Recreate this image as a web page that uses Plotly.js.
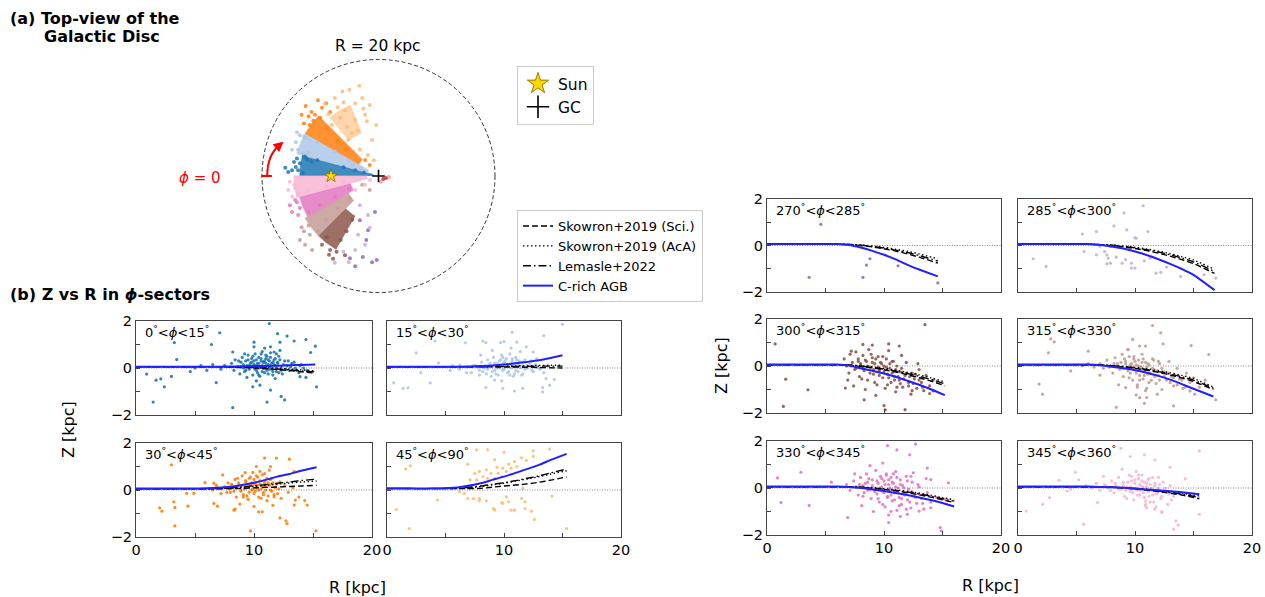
<!DOCTYPE html>
<html><head><meta charset="utf-8">
<script src="https://cdn.plot.ly/plotly-3.0.1.min.js"></script>
<style>html,body{margin:0;padding:0;background:#fff;} #chart{width:1265px;height:597px;}</style>
</head><body><div id="chart"></div>
<script>
// ---------------- DATA ----------------
const sectorLabels = ['0','15','30','45','270','285','300','315','330','345'];
const sectorLabelsHi = ['15','30','45','90','285','300','315','330','345','360'];
const sectorColors = ['#1f77b4','#aec7e8','#ff7f0e','#ffbb78','#9467bd','#c5b0d5','#8c564b','#c49c94','#e377c2','#f7b6d2'];
// dense cores seen in the top view (R range in kpc, phi range in deg, apparent density)
const coreR0   = [1, 2, 4, 8, null, null, 8, 6, 5, 2];
const coreR1   = [13.5, 14.5, 14.5, 13, null, null, 14.5, 14.5, 14, 14.5];
const corePhi0 = [0, 15, 30, 50, null, null, 300, 315, 330, 345];
const corePhi1 = [15, 30, 45, 68, null, null, 315, 330, 345, 360];
const coreAlpha = [0.85, 0.85, 0.85, 0.6, null, null, 0.85, 0.85, 0.85, 0.85];
const SUN_R = 8.15;
const DISC_R = 20;

// top-view scattered stars (X, Y in kpc; GC at origin, phi=0 towards -X)
const topX_000 = [-14.85,-14.2,-15.5,-13.5,-16.0,-14.0,-12.5,-13.0,-12.2,-11.5,-13.8,-6.0,-4.0,-2.5,-12.8,-10.5,-14.5];
const topY_000 = [1.0,1.55,0.7,2.2,1.4,3.0,3.2,0.5,2.8,2.5,1.0,1.5,1.0,0.6,3.4,2.7,2.4];
const topX_015 = [-14.2,-14.85,-13.5,-4.5,-12.8,-13.0,-13.8,-12.5,-11.8,-10.5,-7.5,-5.0,-3.0,-14.0,-12.0];
const topY_015 = [5.8,4.5,7.0,1.9,6.8,3.9,4.5,6.5,6.0,5.8,4.2,2.6,1.3,7.5,4.0];
const topX_030 = [-10.9,-9.7,-11.8,-8.3,-1.5,-2.3,-10.4,-12.0,-11.2,-12.5,-11.5,-10.0,-8.8,-7.0,-5.5,-13.2,-9.0,-12.8];
const topY_030 = [10.5,11.7,8.75,11.0,1.9,2.75,13.0,10.2,9.5,12.0,11.0,10.0,8.2,6.0,4.5,10.5,12.5,9.0];
const topX_045 = [-9.2,-7.5,-4.0,-2.8,-1.5,-0.4,-1.1,-1.8,-3.2,-5.2,-6.6,-0.8,-4.0,-2.3,-5.75,-8.0,-3.3,-6.2,-5.0,-7.0,-4.6,-3.6,-2.0,-6.0,-8.6,-2.6,-5.4];
const topY_045 = [12.4,13.4,12.5,13.4,12.2,8.75,6.2,3.6,4.5,6.2,10.0,2.7,9.6,10.5,11.3,8.75,15.5,14.5,14.8,11.8,7.4,7.8,9.4,12.6,10.6,11.6,8.4];
const topX_270 = [-3.2,-1.8,-1.1,-4.0,-0.6,-4.9,-2.1,-0.3,-2.7];
const topY_270 = [-7.6,-9.3,-14.8,-15.5,-6.2,-14.1,-11.0,-14.4,-13.9];
const topX_285 = [-3.2,-1.8,-3.5,-2.3,-1.5,-4.0,-7.5,-5.1,-6.0];
const topY_285 = [-5.0,-6.7,-10.1,-11.8,-8.9,-12.7,-14.9,-14.8,-13.0];
const topX_300 = [-8.3,-9.7,-5.75,-8.5,-7.2,-6.5,-5.5,-4.5,-8.9,-7.8];
const topY_300 = [-12.7,-11.8,-13.6,-13.5,-13.0,-11.0,-9.5,-7.5,-10.5,-14.2];
const topX_315 = [-13.5,-12.6,-11.8,-11.4,-1.5,-2.8,-12.0,-10.5,-9.0,-7.0,-5.0,-12.8,-13.2];
const topY_315 = [-11.0,-11.8,-10.1,-12.7,-2.4,-1.5,-8.5,-9.5,-7.5,-5.5,-3.8,-9.5,-8.8];
const topX_330 = [-15.2,-14.3,-13.8,-14.85,-13.5,-12.0,-10.0,-7.5,-5.0,-14.0];
const topY_330 = [-5.0,-4.1,-6.7,-6.2,-5.5,-6.2,-5.0,-3.5,-2.2,-4.5];
const topX_345 = [-15.2,-15.5,-14.3,-1.5,-2.3,-4.0,-14.5,-13.8,-12.0,-9.0,-6.0,-14.8];
const topY_345 = [-1.0,-2.4,-2.1,-0.7,-1.5,-2.4,-1.5,-3.0,-2.5,-1.8,-1.0,-3.5];
const topX_other = [1.3,1.8,0.8,0.4];
const topY_other = [-0.35,-0.17,-0.5,-1.0];

// Z vs R stars per sector
const R_000 = [11.3,7.1,6.4,3.25,3.45,12.0,12.8,13.4,14.4,12.2,15.2,14.8,10.0,10.0,8.2,11.4,11.7,0.9,1.7,2.1,2.4,3.0,1.45,8.2,11.1,12.3,12.6,15.3,9.9,10.5,11.4,6.8,14.4,13.9,
 8.1,8.3,8.4,8.6,8.8,8.9,9.0,9.1,9.2,9.3,9.4,9.5,9.6,9.7,9.8,9.9,10.0,10.0,10.1,10.2,10.3,10.4,10.4,10.5,10.6,10.7,10.7,10.8,10.9,11.0,11.0,11.1,11.2,11.3,11.3,11.4,11.5,11.6,11.7,11.8,11.9,12.0,12.1,12.3,12.4,12.6,12.8,13.0,13.2,13.5,13.8,14.0,9.4,10.2,11.8,10.9,9.2,12.2,7.5,7.2,6.5,6.0,5.5,5.0,4.6,
 10.0,10.2,10.4,10.5,10.6,10.8,10.9,11.0,11.1,11.2,11.3,11.4,11.5,11.6,11.7,11.8,11.9,12.0,12.2,12.3,10.1,9.8,9.6,9.5,9.3,9.1,8.9,8.7,10.3,10.7,11.0,11.2,10.6,12.5,12.7,12.9,13.1,13.4,13.6,13.9,14.2,14.5,9.9,10.4,11.6,11.9,12.1,10.8,11.4,10.2];
const Z_000 = [1.89,1.5,1.0,1.08,0.36,1.46,1.36,1.15,1.21,1.1,0.93,0.66,1.1,0.9,0.68,0.9,0.68,-0.26,-0.52,-0.46,-0.8,-0.36,-1.45,-1.69,-1.45,-1.21,-1.36,-0.8,-0.8,-0.73,-0.94,-0.62,-0.4,-0.37,
 0.2,-0.1,0.35,0.05,-0.25,0.25,0.45,0.0,-0.15,0.3,0.1,0.55,-0.05,0.2,0.4,-0.3,0.1,0.3,0.6,-0.1,0.2,0.45,0.0,-0.35,0.3,0.1,0.7,0.25,-0.2,0.4,0.05,0.5,0.15,-0.05,0.3,0.65,0.2,-0.3,0.35,0.1,-0.15,0.25,0.5,0.05,-0.25,0.3,0.1,-0.1,0.2,0.0,-0.2,0.15,-0.4,-0.55,-0.45,0.85,0.6,0.75,0.1,-0.05,0.15,-0.1,0.1,0.0,-0.15,
 0.15,0.35,0.2,0.05,0.4,0.0,0.3,0.2,-0.1,0.35,0.1,0.45,-0.05,0.25,0.15,0.4,0.0,0.2,0.35,-0.1,-0.05,0.25,0.1,0.35,-0.1,0.15,0.05,0.3,-0.2,-0.15,0.55,-0.25,0.6,0.15,-0.05,0.3,0.05,0.25,-0.1,0.1,0.0,-0.1,0.5,-0.3,-0.15,0.6,-0.2,0.25,0.05,0.1];
const R_015 = [15.0,10.7,13.4,8.2,8.45,9.7,10.0,11.1,6.7,4.1,2.5,11.9,12.5,12.8,4.4,2.9,0.57,1.37,1.8,3.7,8.45,9.9,10.9,11.6,13.3,13.3,13.9,14.3,13.6,9.2,7.9,6.8,5.4,6.2,
 7.6,7.9,8.1,8.3,8.5,8.6,8.8,9.0,9.1,9.2,9.4,9.5,9.6,9.7,9.8,9.9,10.0,10.1,10.2,10.3,10.4,10.5,10.6,10.7,10.8,10.9,11.0,11.1,11.2,11.3,11.4,11.5,11.6,11.8,12.0,12.2,12.4,12.7,13.0,13.4,6.8,6.2,5.6,7.2,9.0,10.6,9.8,8.0,
 9.0,9.2,9.4,9.6,9.8,10.0,10.2,10.4,10.6,10.8,11.0,11.2,11.4,11.6,11.8,12.0,8.8,8.6,8.4,8.2,10.1,10.5,9.7,9.3,11.1,10.9,12.3,12.5,12.8,13.1,7.8,7.4,8.9,9.9,10.3,10.7,11.5,9.5,10.0,11.3];
const Z_015 = [1.86,1.52,1.38,1.15,1.08,1.08,1.12,1.1,1.07,1.15,0.64,0.9,0.68,0.4,0.22,-0.2,-0.63,-0.87,-0.84,-0.63,-0.83,-0.87,-0.98,-0.87,-1.02,-0.83,-0.73,-0.49,-0.45,-0.52,-0.3,-0.2,-0.1,0.12,
 0.1,-0.1,0.25,0.0,-0.25,0.35,0.1,-0.15,0.45,0.2,0.0,-0.3,0.3,0.1,0.55,-0.1,0.25,0.05,0.4,-0.2,0.15,0.6,0.0,0.3,-0.35,0.2,0.45,0.05,-0.15,0.3,0.7,0.1,-0.25,0.35,0.0,0.2,-0.1,0.15,0.0,-0.2,0.05,-0.05,0.1,-0.2,0.75,0.85,-0.55,0.55,
 0.05,-0.1,0.2,0.0,0.15,-0.05,0.1,-0.15,0.2,0.05,-0.1,0.15,0.0,0.25,-0.05,0.1,0.2,-0.05,0.1,-0.15,0.3,-0.3,0.35,-0.25,0.35,-0.25,0.3,-0.15,0.05,-0.05,0.05,0.1,-0.35,0.45,0.05,0.4,-0.3,0.1,0.2,0.1];
const R_030 = [3.0,10.9,11.9,13.0,10.2,11.4,10.5,9.25,7.35,13.4,5.85,6.6,4.9,4.3,2.0,2.2,3.2,3.3,3.3,4.4,6.6,6.9,8.4,8.3,9.7,10.4,10.7,12.2,12.7,12.8,13.4,13.5,14.5,15.25,11.7,
 7.5,7.8,8.0,8.2,8.4,8.5,8.7,8.9,9.0,9.1,9.3,9.4,9.5,9.6,9.7,9.8,9.9,10.0,10.1,10.2,10.3,10.4,10.5,10.6,10.7,10.8,10.9,11.0,11.1,11.2,11.3,11.4,11.5,11.7,11.9,12.1,12.3,12.6,12.9,13.3,6.8,6.5,6.9,7.2,13.8,14.3,8.8,10.0,11.6,
 8.5,8.7,8.9,9.0,9.2,9.3,9.5,9.6,9.8,9.9,10.0,10.1,10.3,10.4,10.5,10.7,10.8,10.9,11.0,11.1,11.3,11.5,11.6,11.8,12.0,8.3,8.1,7.9,7.7,9.4,10.2,10.6,11.2,9.7,10.9,12.2,8.6,9.1,10.0,11.4];
const Z_030 = [1.07,1.36,1.36,1.31,1.0,1.0,0.79,0.74,0.64,0.79,0.31,0.29,-0.14,-0.14,-0.76,-0.9,-0.5,-0.74,-1.53,-0.69,-0.57,-0.69,-0.81,-0.86,-1.74,-0.93,-0.93,-1.19,-1.31,-1.43,-0.64,-0.43,-0.64,-1.74,-0.29,
 0.15,0.3,-0.1,0.1,0.45,-0.3,0.2,0.0,0.6,-0.2,0.35,0.1,-0.4,0.5,0.2,0.0,0.75,-0.15,0.3,0.1,0.55,-0.3,0.25,0.05,0.65,-0.1,0.4,0.15,-0.45,0.3,0.85,0.0,0.5,-0.2,0.25,0.05,-0.35,0.2,-0.1,0.1,0.2,0.0,0.1,-0.15,-0.3,-0.45,-0.6,-0.7,-0.65,
 0.1,0.3,-0.05,0.2,0.05,0.4,0.15,-0.1,0.3,0.05,0.45,-0.05,0.2,0.0,0.4,0.15,-0.2,0.3,0.0,0.5,0.2,-0.05,0.3,0.1,-0.15,-0.05,0.25,0.05,-0.1,-0.25,0.6,-0.35,-0.25,0.55,0.7,0.35,0.5,-0.3,0.25,0.45];
const R_045 = [7.65,8.6,10.0,11.5,12.5,13.9,12.5,11.9,1.6,2.0,6.9,9.2,10.9,10.4,9.4,9.9,8.5,7.9,7.5,8.9,9.5,10.2,10.6,11.1,7.1,7.65,8.2,8.6,9.2,9.8,7.1,6.6,6.9,7.4,7.9,7.9,8.5,9.1,9.2,9.8,9.9,10.2,10.4,10.6,10.9,11.5,11.8,11.8,12.35,12.6,11.6,4.3,0.8,1.9,15.35,14.1,6.2];
const Z_045 = [1.71,1.71,1.6,1.37,1.67,1.74,1.43,1.26,0.89,1.03,1.1,1.29,1.21,1.1,0.97,0.93,0.86,0.79,0.71,0.71,0.71,0.79,0.93,1.0,0.43,0.43,0.57,0.5,0.5,0.57,0.07,-0.14,-0.36,-0.36,-0.46,-0.36,-0.46,-0.79,-0.86,-0.54,-0.57,-0.29,-0.5,-0.86,-0.86,-0.36,-0.5,-0.79,-0.9,-1.26,0.07,-0.43,-0.83,-1.64,-1.64,-0.26,-0.07];
const R_270 = [4.6,3.6,8.2,8.5,8.8,11.2,14.6];
const Z_270 = [0.91,-1.37,-1.37,-0.84,-0.57,-0.87,-1.61];
const R_285 = [10.7,9.06,8.2,9.3,11.1,6.7,5.5,10.0,10.1,5.65,6.7,7.4,7.6,7.7,7.6,7.9,8.4,8.9,9.2,9.7,9.7,10.0,10.8,11.3,11.8,12.2,12.7,13.9,15.9,16.9,1.3,2.4,7.0,7.9];
const Z_285 = [1.71,1.4,0.84,0.67,0.6,0.6,0.49,0.34,0.31,-0.26,-0.4,-0.26,-0.4,-0.54,-0.79,-0.76,-0.5,-0.76,-0.61,-0.76,-0.97,-0.97,-0.66,-0.54,-1.19,-1.16,-0.93,-1.33,-1.26,-1.4,-0.57,-0.9,-0.04,-0.04];
const R_300 = [0.7,1.6,3.5,1.4,13.5,9.0,10.4,11.3,8.2,7.2,6.7,8.3,10.0,10.1,11.8,13.9,14.2,
 6.6,6.8,7.0,7.1,7.3,7.5,7.6,7.8,7.9,8.0,8.2,8.3,8.5,8.6,8.7,8.8,9.0,9.1,9.2,9.4,9.5,9.6,9.7,9.9,10.0,10.1,10.2,10.3,10.5,10.6,10.7,10.9,11.0,11.1,11.3,11.4,11.6,11.8,11.9,12.1,12.3,12.4,12.6,12.8,13.0,13.2,13.4,13.6,13.9,14.2,8.4,7.4,9.3,10.4,6.9,11.5,12.9,
 8.0,8.2,8.4,8.6,8.8,9.0,9.1,9.3,9.5,9.6,9.8,10.0,10.2,10.4,10.5,10.7,10.9,11.0,11.2,11.4,11.5,11.7,11.9,12.1,12.2,12.5,12.7,13.0,13.3,7.6,7.8,7.2,8.1,9.2,9.9,10.8,10.3,11.1,12.4,8.9];
const Z_300 = [0.94,-0.56,-1.01,-1.72,1.76,0.89,0.94,0.85,0.92,0.63,-0.94,-1.44,-1.69,-1.87,-1.86,-1.17,-1.06,
 0.3,0.0,-0.3,0.5,0.15,-0.15,0.6,0.3,-0.45,0.05,0.45,-0.2,0.2,-0.6,0.7,-0.05,0.35,-0.35,0.1,-0.8,0.4,-0.2,0.15,-0.5,0.0,-0.95,0.3,-0.35,-0.1,-0.7,0.2,-0.45,-1.1,0.0,-0.6,-0.25,-0.9,-0.4,0.15,-0.7,-1.2,-0.3,-0.55,-0.95,-0.15,-0.7,-1.05,-0.4,-0.85,-0.6,-1.0,-0.85,-1.25,0.65,-0.6,0.45,0.1,
 0.1,-0.1,0.25,0.0,-0.3,0.15,-0.15,0.3,-0.05,-0.4,0.1,-0.25,-0.05,-0.5,0.1,-0.3,-0.6,-0.15,-0.45,-0.75,-0.1,-0.55,-0.3,-0.85,-0.45,-0.75,-0.35,-0.6,-0.9,-0.1,0.2,0.0,-0.55,-0.7,0.4,0.2,-0.8,-0.9,-1.05,0.5];
const R_315 = [11.5,12.2,2.8,3.1,2.6,6.0,9.8,10.4,9.4,12.4,14.8,16.3,1.8,2.1,4.5,7.0,8.4,9.2,10.1,10.8,11.0,13.3,14.7,15.1,16.9,
 7.0,7.3,7.6,7.9,8.1,8.3,8.5,8.7,8.9,9.0,9.2,9.3,9.5,9.6,9.7,9.8,9.9,10.0,10.1,10.2,10.3,10.4,10.5,10.6,10.7,10.8,10.9,11.0,11.1,11.2,11.4,11.5,11.6,11.8,12.0,12.1,12.3,12.5,12.7,12.9,13.1,13.3,13.6,13.8,14.1,14.4,14.7,15.0,15.5,16.0,6.5,6.0,5.5,9.4,10.9,8.6,11.9,10.4,
 8.5,8.8,9.0,9.2,9.4,9.6,9.8,10.0,10.1,10.3,10.5,10.6,10.8,11.0,11.1,11.3,11.5,11.7,11.9,12.1,12.3,12.5,12.8,13.0,13.3,13.6,14.0,14.3,9.1,9.9,10.7,8.2,7.8,10.4,11.2,9.5,12.0,10.2,11.6,10.9];
const Z_315 = [1.72,1.41,1.15,1.03,0.56,0.63,1.13,0.85,0.7,0.94,0.87,0.49,-0.77,-1.2,-0.21,-0.39,-1.76,-0.92,-1.23,-1.59,-1.34,-1.7,-1.06,-1.2,-1.44,
 0.1,-0.1,0.25,0.0,-0.3,0.35,0.1,-0.15,0.5,-0.45,0.2,-0.05,0.4,-0.3,0.1,-0.6,0.3,-0.15,0.05,-0.8,0.25,-0.4,-0.05,0.5,-0.55,-0.2,0.15,-0.95,-0.35,0.05,-0.6,0.3,-0.15,-0.75,-0.4,0.1,-1.0,-0.25,-0.6,0.2,-0.45,-0.85,-0.1,-0.55,-0.95,-0.3,-0.7,-0.5,-0.9,-0.6,-0.05,0.1,0.0,0.7,0.85,-0.8,-1.2,-1.35,
 0.0,0.15,-0.1,0.1,-0.2,0.05,-0.05,0.2,-0.3,0.0,-0.15,0.15,-0.4,-0.05,0.1,-0.3,-0.1,-0.45,-0.2,-0.6,-0.1,-0.45,-0.3,-0.7,-0.5,-0.8,-0.6,-0.9,0.3,0.4,0.3,0.1,-0.05,-0.6,-0.7,-0.5,0.2,-0.9,0.25,-1.05];
const R_330 = [0.9,1.2,2.9,3.6,5.5,6.9,10.3,11.1,12.7,12.2,8.8,9.9,13.7,14.0,15.5,14.8,14.9,10.4,11.4,12.0,13.0,14.0,15.2,
 6.8,7.1,7.4,7.6,7.8,8.0,8.2,8.3,8.5,8.6,8.8,8.9,9.0,9.2,9.3,9.4,9.5,9.6,9.7,9.8,9.9,10.0,10.1,10.2,10.3,10.4,10.5,10.6,10.7,10.8,10.9,11.0,11.1,11.2,11.3,11.4,11.5,11.6,11.7,11.9,12.0,12.1,12.3,12.4,12.6,12.8,13.0,13.2,13.4,13.7,14.0,14.5,9.1,10.4,8.1,12.5,13.6,7.5,
 9.0,9.2,9.4,9.6,9.8,10.0,10.1,10.3,10.4,10.5,10.6,10.7,10.9,11.0,11.1,11.2,11.4,11.5,11.7,11.8,12.0,12.2,12.4,12.7,13.0,8.4,8.6,8.7,8.2,7.9,9.5,10.2,10.8,11.3,11.9,9.9,10.6,12.3,13.3,12.9];
const Z_330 = [0.43,-0.62,0.67,-0.74,0.25,-1.26,1.8,1.62,1.87,1.41,0.95,1.06,0.85,0.36,0.22,-1.68,-1.82,-1.47,-1.21,-1.12,-0.98,-0.84,-0.48,
 0.15,-0.1,0.3,0.05,-0.3,0.45,0.1,-0.2,0.6,0.25,-0.05,-0.45,0.35,0.0,0.75,-0.25,0.2,-0.6,0.5,0.05,-0.15,0.3,-0.8,0.6,-0.35,0.15,-0.05,0.45,-0.55,0.2,-0.2,0.7,-0.95,0.0,-0.4,0.35,-0.7,0.1,-0.25,0.5,-0.5,-0.05,-0.85,0.25,-0.35,-0.65,0.05,-0.45,-0.9,-0.2,-0.6,-0.4,-1.0,-1.15,-0.75,0.65,0.4,0.6,
 0.1,-0.15,0.3,0.0,0.4,-0.2,0.15,-0.4,0.35,0.0,-0.3,0.25,-0.5,0.05,0.45,-0.2,0.15,-0.45,0.0,-0.3,0.3,-0.6,-0.15,-0.4,-0.25,0.2,-0.1,0.4,-0.35,0.15,-0.45,0.55,0.6,-0.75,-0.9,-0.7,-1.0,0.5,-0.65,0.15];
const R_345 = [0.7,2.1,2.7,3.5,4.2,4.9,5.6,6.8,8.8,9.6,10.8,11.7,13.0,14.3,15.5,15.5,13.5,13.7,13.3,12.3,11.7,10.9,
 5.8,6.3,6.7,7.0,7.4,7.7,8.0,8.2,8.4,8.6,8.8,9.0,9.1,9.3,9.5,9.6,9.7,9.8,9.9,10.0,10.1,10.2,10.3,10.4,10.5,10.6,10.7,10.8,10.9,11.0,11.1,11.2,11.3,11.4,11.5,11.6,11.7,11.8,12.0,12.2,12.4,12.6,12.8,13.0,13.3,8.9,11.0,12.3,7.3,5.2,4.5,
 9.0,9.2,9.4,9.6,9.8,10.0,10.1,10.2,10.4,10.5,10.6,10.7,10.8,11.0,11.1,11.2,11.4,11.5,11.7,11.9,12.1,12.3,12.6,12.9,8.6,8.3,7.9,7.5,10.3,11.3,9.7,10.9,12.0,13.1,11.8,9.3];
const Z_345 = [-0.98,-0.7,-0.41,0.33,-0.13,0.67,-1.54,-0.62,1.69,1.34,1.41,1.2,0.88,0.39,1.58,-1.12,-1.4,-1.58,-1.75,-1.05,-0.9,-0.77,
 0.1,0.0,0.2,-0.1,0.15,0.0,0.3,-0.2,0.1,0.45,-0.05,0.25,-0.35,0.05,0.55,-0.15,0.3,0.0,-0.5,0.2,0.7,-0.1,0.4,-0.3,0.1,0.55,-0.2,0.25,-0.55,0.05,0.35,-0.35,0.15,-0.1,0.45,-0.6,0.2,-0.25,0.0,-0.45,0.25,-0.15,-0.7,0.1,-0.35,0.8,-0.85,-1.0,0.5,0.35,-0.05,
 0.1,-0.1,0.25,0.05,-0.2,0.35,0.0,-0.3,0.15,-0.1,0.3,0.05,-0.4,0.2,-0.15,0.4,0.0,-0.3,0.1,-0.2,0.15,-0.35,0.0,-0.25,-0.05,0.2,-0.1,0.1,0.55,-0.6,0.5,-0.7,0.45,-0.5,-0.8,-0.45];

// warp models per sector (R grid and Z values in kpc)
const mR_000 = [0,2,4,6,8,9,10,11,12,13,14,15.2];
const blue_000 = [0.05,0.05,0.05,0.05,0.06,0.07,0.08,0.09,0.10,0.12,0.13,0.15];
const sci_000  = [0.05,0.05,0.05,0.05,0.04,0.02,0.0,-0.03,-0.07,-0.11,-0.16,-0.22];
const aca_000  = [0.05,0.05,0.05,0.05,0.05,0.04,0.03,0.01,-0.01,-0.04,-0.08,-0.12];
const lem_000  = [0.05,0.05,0.05,0.05,0.04,0.03,0.02,-0.01,-0.04,-0.08,-0.12,-0.17];
const mR_015 = [0,2,4,6,8,9,10,11,12,13,14,15.0];
const blue_015 = [0.05,0.05,0.05,0.05,0.08,0.11,0.15,0.2,0.26,0.33,0.43,0.54];
const sci_015  = [0.05,0.05,0.05,0.05,0.05,0.05,0.04,0.04,0.03,0.02,0.01,0.0];
const aca_015  = [0.05,0.05,0.05,0.05,0.06,0.07,0.08,0.09,0.1,0.11,0.115,0.12];
const lem_015  = [0.05,0.05,0.05,0.05,0.05,0.06,0.06,0.07,0.07,0.08,0.08,0.08];
const mR_030 = [0,2,4,6,8,9,10,11,12,13,14,15.3];
const blue_030 = [0.06,0.06,0.06,0.07,0.14,0.21,0.31,0.43,0.57,0.68,0.82,0.97];
const sci_030  = [0.05,0.05,0.05,0.05,0.06,0.07,0.09,0.11,0.13,0.15,0.17,0.2];
const aca_030  = [0.05,0.05,0.05,0.05,0.08,0.11,0.15,0.2,0.25,0.3,0.34,0.38];
const lem_030  = [0.05,0.05,0.05,0.05,0.09,0.13,0.18,0.23,0.29,0.34,0.4,0.46];
const mR_045 = [0,2,4,6,8,9,10,11,12,13,14,15.35];
const blue_045 = [0.07,0.07,0.07,0.11,0.29,0.43,0.57,0.73,0.9,1.07,1.28,1.54];
const sci_045  = [0.06,0.06,0.06,0.06,0.07,0.12,0.17,0.21,0.26,0.33,0.42,0.56];
const aca_045  = [0.06,0.06,0.06,0.06,0.14,0.22,0.29,0.38,0.47,0.57,0.68,0.82];
const lem_045  = [0.06,0.06,0.06,0.07,0.17,0.24,0.31,0.4,0.5,0.6,0.73,0.89];
const mR_270 = [0,2,4,6,7,8,9,10,11,12,13,14.6];
const blue_270 = [0.06,0.06,0.06,0.06,0.02,-0.09,-0.23,-0.4,-0.6,-0.83,-1.03,-1.33];
const sci_270  = [0.05,0.05,0.05,0.05,0.04,0.0,-0.06,-0.14,-0.24,-0.36,-0.5,-0.76];
const aca_270  = [0.05,0.05,0.05,0.05,0.05,0.02,-0.02,-0.08,-0.16,-0.25,-0.36,-0.58];
const lem_270  = [0.05,0.05,0.05,0.05,0.04,0.01,-0.04,-0.11,-0.2,-0.3,-0.43,-0.67];
const mR_285 = [0,2,4,6,8,9,10,11,12,13,14,15,16.8];
const blue_285 = [0.06,0.06,0.06,0.06,-0.04,-0.13,-0.26,-0.41,-0.59,-0.79,-1.01,-1.26,-1.92];
const sci_285  = [0.05,0.05,0.05,0.05,0.0,-0.06,-0.13,-0.22,-0.33,-0.46,-0.61,-0.78,-1.2];
const aca_285  = [0.05,0.05,0.05,0.05,0.02,-0.02,-0.08,-0.15,-0.24,-0.35,-0.48,-0.62,-1.03];
const lem_285  = [0.05,0.05,0.05,0.05,0.01,-0.04,-0.1,-0.18,-0.28,-0.4,-0.54,-0.7,-1.12];
const mR_300 = [0,2,4,6,7,8,9,10,11,12,13,14,15.2];
const blue_300 = [0.06,0.06,0.06,0.06,0.02,-0.1,-0.2,-0.32,-0.46,-0.63,-0.8,-0.99,-1.24];
const sci_300  = [0.05,0.05,0.05,0.05,0.03,-0.02,-0.08,-0.16,-0.26,-0.37,-0.5,-0.64,-0.84];
const aca_300  = [0.05,0.05,0.05,0.05,0.04,0.01,-0.04,-0.1,-0.18,-0.27,-0.38,-0.5,-0.68];
const lem_300  = [0.05,0.05,0.05,0.05,0.04,0.0,-0.06,-0.13,-0.22,-0.32,-0.44,-0.57,-0.76];
const mR_315 = [0,2,4,6,7,8,9,10,11,12,13,14,15,16.7];
const blue_315 = [0.06,0.06,0.06,0.06,0.03,-0.03,-0.1,-0.18,-0.29,-0.42,-0.58,-0.77,-0.97,-1.3];
const sci_315  = [0.05,0.05,0.05,0.05,0.04,0.01,-0.04,-0.1,-0.18,-0.27,-0.38,-0.51,-0.66,-1.0];
const aca_315  = [0.05,0.05,0.05,0.05,0.05,0.02,-0.01,-0.06,-0.12,-0.2,-0.29,-0.4,-0.53,-0.9];
const lem_315  = [0.05,0.05,0.05,0.05,0.04,0.01,-0.03,-0.08,-0.15,-0.24,-0.34,-0.46,-0.6,-0.95];
const mR_330 = [0,2,4,6,7,8,9,10,11,12,13,14,15,16];
const blue_330 = [0.06,0.06,0.06,0.06,0.04,0.0,-0.06,-0.13,-0.21,-0.3,-0.4,-0.51,-0.64,-0.79];
const sci_330  = [0.05,0.05,0.05,0.05,0.05,0.03,-0.01,-0.06,-0.12,-0.2,-0.29,-0.39,-0.5,-0.62];
const aca_330  = [0.05,0.05,0.05,0.05,0.05,0.04,0.01,-0.03,-0.08,-0.14,-0.22,-0.31,-0.41,-0.5];
const lem_330  = [0.05,0.05,0.05,0.05,0.05,0.03,0.0,-0.05,-0.1,-0.17,-0.25,-0.35,-0.45,-0.56];
const mR_345 = [0,2,4,6,8,10,12,14,15.5];
const blue_345 = [0.06,0.06,0.06,0.06,0.03,-0.02,-0.1,-0.18,-0.27];
const sci_345  = [0.05,0.05,0.05,0.05,0.03,-0.04,-0.15,-0.3,-0.46];
const aca_345  = [0.05,0.05,0.05,0.05,0.04,-0.01,-0.1,-0.22,-0.34];
const lem_345  = [0.05,0.05,0.05,0.05,0.03,-0.03,-0.13,-0.26,-0.4];

const modelNames = ['Skowron+2019 (Sci.)','Skowron+2019 (AcA)','Lemasle+2022','C-rich AGB'];
const xTickVals = [0,5,10,15,20], xTickText = ['0','','10','','20'];
const yTickVals = [-2,-1,0,1,2], yTickText = ['\u22122','','0','','2'];

// ---------------- BUILD ----------------
const W = 1265, H = 597;
const FONT = 'DejaVu Sans, Liberation Sans, sans-serif';
const zrR = [R_000,R_015,R_030,R_045,R_270,R_285,R_300,R_315,R_330,R_345];
const zrZ = [Z_000,Z_015,Z_030,Z_045,Z_270,Z_285,Z_300,Z_315,Z_330,Z_345];
const mR = [mR_000,mR_015,mR_030,mR_045,mR_270,mR_285,mR_300,mR_315,mR_330,mR_345];
const mBlue = [blue_000,blue_015,blue_030,blue_045,blue_270,blue_285,blue_300,blue_315,blue_330,blue_345];
const mSci = [sci_000,sci_015,sci_030,sci_045,sci_270,sci_285,sci_300,sci_315,sci_330,sci_345];
const mAca = [aca_000,aca_015,aca_030,aca_045,aca_270,aca_285,aca_300,aca_315,aca_330,aca_345];
const mLem = [lem_000,lem_015,lem_030,lem_045,lem_270,lem_285,lem_300,lem_315,lem_330,lem_345];
const topX = [topX_000,topX_015,topX_030,topX_045,topX_270,topX_285,topX_300,topX_315,topX_330,topX_345];
const topY = [topY_000,topY_015,topY_030,topY_045,topY_270,topY_285,topY_300,topY_315,topY_330,topY_345];

const boxes = [[136,372,321,415],[387,621,321,415],[136,372,443,537],[387,621,443,537],
  [767,1001,199,292],[1018,1252,199,292],[767,1001,319,413],[1018,1252,319,413],[767,1001,441,535],[1018,1252,441,535]];
const showXLabels = [false,false,true,true,false,false,false,false,true,true];
const showYLabels = [true,false,true,false,true,false,true,false,true,false];

const traces = [];
const layout = {
  width: W, height: H, margin: {l:0,r:0,t:0,b:0},
  paper_bgcolor: '#fff', plot_bgcolor: '#fff',
  font: {family: FONT, color: '#000'},
  showlegend: true,
  shapes: [], annotations: []
};

function hexA(hex, a){const n=parseInt(hex.slice(1),16);return `rgba(${n>>16&255},${n>>8&255},${n&255},${a})`;}
function paper(px,py){return {x:px/W, y:1-py/H, xref:'paper', yref:'paper'};}

const tvL=256, tvR=501, tvT=54, tvB=298, tvCx=378.5, tvCy=176, pxPerKpc=5.825;
layout.xaxis = {domain:[tvL/W, tvR/W], range:[(tvL-tvCx)/pxPerKpc,(tvR-tvCx)/pxPerKpc], visible:false, fixedrange:true};
layout.yaxis = {domain:[1-tvB/H, 1-tvT/H], range:[(tvCy-tvB)/pxPerKpc,(tvCy-tvT)/pxPerKpc], visible:false, fixedrange:true};

layout.shapes.push({type:'circle', xref:'x', yref:'y', x0:-DISC_R, x1:DISC_R, y0:-DISC_R, y1:DISC_R,
  line:{color:'#333', width:1, dash:'4px,2.5px'}});

for (let i=0;i<10;i++){
  if (coreR0[i]===null) continue;
  const xs=[], ys=[];
  for (let p=corePhi0[i]; p<=corePhi1[i]; p+=1){const a=p*Math.PI/180; xs.push(-coreR1[i]*Math.cos(a)); ys.push(coreR1[i]*Math.sin(a));}
  for (let p=corePhi1[i]; p>=corePhi0[i]; p-=1){const a=p*Math.PI/180; xs.push(-coreR0[i]*Math.cos(a)); ys.push(coreR0[i]*Math.sin(a));}
  traces.push({type:'scatter', mode:'lines', x:xs, y:ys, fill:'toself', fillcolor:hexA(sectorColors[i],coreAlpha[i]),
    line:{width:1.5, color:hexA(sectorColors[i],0.5)}, xaxis:'x', yaxis:'y', showlegend:false, hoverinfo:'skip'});
}
for (let i=0;i<10;i++){
  traces.push({type:'scatter', mode:'markers', x:topX[i], y:topY[i], xaxis:'x', yaxis:'y', showlegend:false,
    marker:{size:4, color:sectorColors[i], opacity:0.85}});
}
traces.push({type:'scatter', mode:'markers', x:topX_other, y:topY_other, xaxis:'x', yaxis:'y', showlegend:false,
  marker:{size:4, color:['#d62728','#ff9896','#d62728','#ff9896'], opacity:0.85}});
traces.push({type:'scatter', mode:'markers', x:[-SUN_R], y:[0], xaxis:'x', yaxis:'y', showlegend:false,
  marker:{symbol:'star', size:10, color:'#FFD700', line:{color:'#7a6000', width:0.7}}});
traces.push({type:'scatter', mode:'markers', x:[0], y:[0], xaxis:'x', yaxis:'y', showlegend:false,
  marker:{symbol:'cross-thin', size:9, color:'#000', line:{color:'#000', width:1.6}}});
traces.push({type:'scatter', mode:'markers', x:[null], y:[null], xaxis:'x', yaxis:'y', name:'Sun', legend:'legend2',
  marker:{symbol:'star', size:17, color:'#FFD700', line:{color:'#7a6000', width:0.8}}});
traces.push({type:'scatter', mode:'markers', x:[null], y:[null], xaxis:'x', yaxis:'y', name:'GC', legend:'legend2',
  marker:{symbol:'cross-thin', size:17, color:'#000', line:{color:'#000', width:1.6}}});

layout.shapes.push({type:'line', xref:'x', yref:'y', x0:-20.1, x1:-18.3, y0:0, y1:0, line:{color:'red', width:2}});
layout.shapes.push({type:'path', xref:'x', yref:'y', path:'M -19.1 0 Q -19.1 3.6 -17.0 5.3', line:{color:'red', width:2}});
layout.annotations.push({xref:'x', yref:'y', axref:'x', ayref:'y', x:-16.3, y:5.9, ax:-17.3, ay:5.05, text:'',
  showarrow:true, arrowhead:2, arrowsize:1, arrowwidth:2, arrowcolor:'red', standoff:0});

const dashes = ['6px,3px','1.5px,2.5px','8px,3px,1.5px,3px'];
for (let i=0;i<10;i++){
  const n=i+2, xa='x'+n, ya='y'+n;
  const [l,r,t,b]=boxes[i];
  layout['xaxis'+n] = {domain:[l/W,r/W], range:[0,20], anchor:ya, showgrid:false, zeroline:false,
    showline:true, mirror:true, linecolor:'#444', linewidth:1, ticks:'inside', ticklen:4, tickcolor:'#444',
    tickvals:xTickVals, ticktext:xTickText, showticklabels:showXLabels[i], tickfont:{size:14.5, family:FONT}, fixedrange:true};
  layout['yaxis'+n] = {domain:[1-b/H,1-t/H], range:[-2,2], anchor:xa, showgrid:false, zeroline:false,
    showline:true, mirror:true, linecolor:'#444', linewidth:1, ticks:'inside', ticklen:4, tickcolor:'#444',
    tickvals:yTickVals, ticktext:yTickText, showticklabels:showYLabels[i], tickfont:{size:14.5, family:FONT}, fixedrange:true};
  layout.shapes.push({type:'line', xref:xa+' domain', yref:ya, x0:0, x1:1, y0:0, y1:0, line:{color:'#555', width:0.7, dash:'1px,1.5px'}});
  traces.push({type:'scatter', mode:'markers', x:zrR[i], y:zrZ[i], xaxis:xa, yaxis:ya, showlegend:false,
    marker:{size:3.2, color:sectorColors[i], opacity:0.9}});
  const lines = [mSci[i], mAca[i], mLem[i]];
  lines.forEach((z,k)=>{
    traces.push({type:'scatter', mode:'lines', x:mR[i], y:z, xaxis:xa, yaxis:ya, name:modelNames[k],
      legend:'legend', showlegend:i===0, line:{color:'#000', width:1.4, dash:dashes[k], shape:'spline', smoothing:0.6}});
  });
  traces.push({type:'scatter', mode:'lines', x:mR[i], y:mBlue[i], xaxis:xa, yaxis:ya, name:modelNames[3],
    legend:'legend', showlegend:i===0, line:{color:'#1f1fff', width:2, shape:'spline', smoothing:0.6}});
  layout.annotations.push({xref:xa+' domain', yref:ya+' domain', x:0.03, y:0.88, xanchor:'left', yanchor:'middle',
    showarrow:false, text:`${sectorLabels[i]}<sup>°</sup>&lt;<i>ϕ</i>&lt;${sectorLabelsHi[i]}<sup>°</sup>`, font:{size:13, family:FONT}});
}

layout.legend = {x:517/W, y:1-210/H, xanchor:'left', yanchor:'top', bgcolor:'#fff', bordercolor:'#cccccc', borderwidth:1,
  font:{size:13, family:FONT}, tracegroupgap:0, itemwidth:30};
layout.legend2 = {x:517/W, y:1-66/H, xanchor:'left', yanchor:'top', bgcolor:'#fff', bordercolor:'#cccccc', borderwidth:1,
  font:{size:15.5, family:FONT}, itemwidth:30};

function txt(px,py,text,opts){layout.annotations.push(Object.assign(paper(px,py),{text:text, showarrow:false, xanchor:'left', yanchor:'middle', font:{size:14, family:FONT, color:'#000'}},opts||{}));}
txt(8,18,'<b>(a) Top-view of the</b>',{font:{size:16,family:FONT}});
txt(42,36,'<b>Galactic Disc</b>',{font:{size:16,family:FONT}});
txt(8,294,'<b>(b) Z vs R in <i>ϕ</i>-sectors</b>',{font:{size:16,family:FONT}});
txt(378,46,'R = 20 kpc',{xanchor:'center', font:{size:15.5,family:FONT}});
txt(200,178,'<i>ϕ</i> = 0',{xanchor:'center', font:{size:15,family:FONT,color:'red'}});
txt(68,430,'Z [kpc]',{xanchor:'center', textangle:-90, font:{size:16,family:FONT}});
txt(357,587,'R [kpc]',{xanchor:'center', font:{size:16,family:FONT}});
txt(721,366,'Z [kpc]',{xanchor:'center', textangle:-90, font:{size:16,family:FONT}});
txt(990,585,'R [kpc]',{xanchor:'center', font:{size:16,family:FONT}});

Plotly.newPlot('chart', traces, layout, {staticPlot:true, displayModeBar:false});
</script></body></html>
